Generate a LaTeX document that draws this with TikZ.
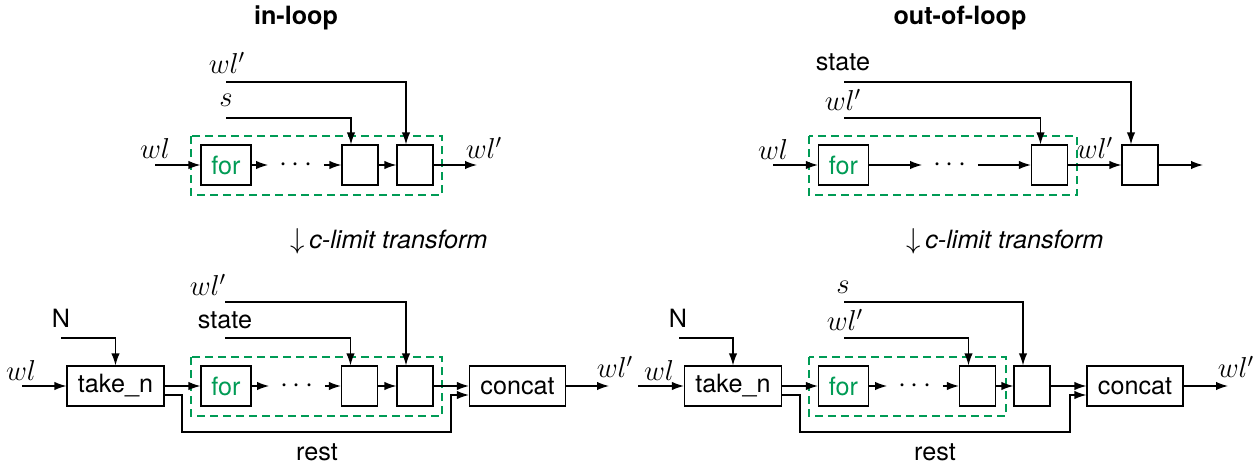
\documentclass[tikz,border=0pt]{standalone}
\usepackage{fontspec}
\setmainfont{TeX Gyre Heros}[Scale=0.88]
\usetikzlibrary{arrows.meta}
\definecolor{fgreen}{RGB}{0,155,85}
\begin{document}
\begin{tikzpicture}[x=0.5pt,y=-0.5pt, font=\fontsize{14.3}{17}\selectfont,
 arr/.style={line width=0.65pt,-{Latex[length=6pt,width=4.2pt]}},
 ln/.style={line width=0.65pt},
 blk/.style={draw,line width=0.6pt,inner sep=0pt,minimum height=20pt},
 forbox/.style={blk,minimum width=25pt,text=fgreen},
 sbox/.style={blk,minimum width=18pt},
 bigbox/.style={blk,minimum width=48.5pt},
 dotsnode/.style={inner sep=0pt,minimum width=27.5pt,minimum height=10pt},
 grp/.style={draw=fgreen,dash pattern=on 4pt off 2.5pt,line width=0.6pt},
 lbl/.style={inner sep=0pt}]
\useasboundingbox (0,0) rectangle (1260,466);

% ---------- titles ----------
\node[lbl,font=\fontsize{14.3}{17}\selectfont\bfseries] (t1) at (296,18) {in-loop};
\node[lbl,font=\fontsize{14.3}{17}\selectfont\bfseries] (t2) at (960,18) {out-of-loop};

% ---------- top-left ----------
\draw[grp] (191,136) rectangle (442,195);
\node[forbox] (f1) at (226,165) {for};
\node[dotsnode] (d1) at (296,165) {$\cdots$};
\node[sbox] (b1a) at (360,165) {};
\node[sbox] (b1b) at (415,165) {};
\coordinate (i1) at (155,165);
\coordinate (o1) at (477,165);
\coordinate (c1s) at (226,118);
\coordinate (c1w) at (226,82);
\draw[arr] (i1) -- (f1);
\draw[arr] (f1) -- (d1);
\draw[arr] (d1) -- (b1a);
\draw[arr] (b1a) -- (b1b);
\draw[arr] (b1b) -- (o1);
\draw[arr] (c1s) -| ([xshift=-4.5pt]b1a.north);
\draw[arr] (c1w) -| ([xshift=-4.5pt]b1b.north);
\node[lbl] (l1a) at (227,63) {$wl'$};
\node[lbl] (l1b) at (226,100) {$s$};
\node[lbl] (l1c) at (155,148) {$wl$};
\node[lbl] (l1d) at (484,148) {$wl'$};

% ---------- top-right ----------
\draw[grp] (809,136) rectangle (1077,195);
\node[forbox] (f2) at (843.5,165) {for};
\node[dotsnode] (d2) at (950,165) {$\cdots$};
\node[sbox] (b2a) at (1049.5,165) {};
\node[sbox] (b2b) at (1140,165) {};
\coordinate (i2) at (773,165);
\coordinate (o2) at (1203,165);
\coordinate (c2w) at (844,118);
\coordinate (c2s) at (844,82);
\draw[arr] (i2) -- (f2);
\draw[arr] (f2) -- (d2);
\draw[arr] (d2) -- (b2a);
\draw[arr] (b2a) -- (b2b);
\draw[arr] (b2b) -- (o2);
\draw[arr] (c2w) -| ([xshift=-4.5pt]b2a.north);
\draw[arr] (c2s) -| ([xshift=-4.5pt]b2b.north);
\node[lbl] (l2a) at (843,62) {state};
\node[lbl] (l2b) at (843,100) {$wl'$};
\node[lbl] (l2c) at (773,149) {$wl$};
\node[lbl] (l2d) at (1095,148) {$wl'$};

% ---------- transforms ----------
\node[lbl,anchor=base] (tr1) at (389,248) {$\downarrow$\,\textit{c-limit transform}};
\node[lbl,anchor=base] (tr2) at (1005,248) {$\downarrow$\,\textit{c-limit transform}};

% ---------- bottom-left ----------
\draw[grp] (191,357) rectangle (442,416);
\node[bigbox] (tk1) at (115.5,386) {take\_n};
\node[forbox] (f3) at (226,386) {for};
\node[dotsnode] (d3) at (297,386) {$\cdots$};
\node[sbox] (b3a) at (359.5,386) {};
\node[sbox] (b3b) at (415,386) {};
\node[bigbox,minimum width=48pt] (cc1) at (517.5,386) {concat};
\coordinate (i3) at (22,386);
\coordinate (o3) at (609,386);
\coordinate (n3) at (61,338);
\coordinate (c3s) at (225,338);
\coordinate (c3w) at (225,302);
\coordinate (r1) at (182,432);
\coordinate (r2) at (451,432);
\draw[arr] (i3) -- (tk1);
\draw[arr] (n3) -| (tk1.north);
\draw[arr] (tk1) -- (f3);
\draw[arr] (f3) -- (d3);
\draw[arr] (d3) -- (b3a);
\draw[arr] (b3a) -- (b3b);
\draw[arr] (b3b) -- (cc1);
\draw[arr] (cc1) -- (o3);
\draw[arr] (c3s) -| ([xshift=-4.5pt]b3a.north);
\draw[arr] (c3w) -| ([xshift=-4.5pt]b3b.north);
\draw[arr] ([yshift=-4.5pt]tk1.east) -| (r1) -- (r2) |- ([yshift=-4.5pt]cc1.west);
\node[lbl] (l3a) at (208,285) {$wl'$};
\node[lbl] (l3b) at (225,320) {state};
\node[lbl] (l3c) at (61,318) {N};
\node[lbl] (l3d) at (21,370) {$wl$};
\node[lbl] (l3e) at (615,367) {$wl'$};
\node[lbl] (l3f) at (317,452) {rest};

% ---------- bottom-right ----------
\draw[grp] (809,357) rectangle (1006,416);
\node[bigbox] (tk2) at (733,386) {take\_n};
\node[forbox] (f4) at (843.5,386) {for};
\node[dotsnode] (d4) at (915,386) {$\cdots$};
\node[sbox] (b4a) at (977.5,386) {};
\node[sbox] (b4b) at (1032,386) {};
\node[bigbox,minimum width=48pt] (cc2) at (1135,386) {concat};
\coordinate (i4) at (638,386);
\coordinate (o4) at (1228,386);
\coordinate (n4) at (679,338);
\coordinate (c4w) at (844,338);
\coordinate (c4s) at (844,302);
\coordinate (r3) at (800,432);
\coordinate (r4) at (1070,432);
\draw[arr] (i4) -- (tk2);
\draw[arr] (n4) -| (tk2.north);
\draw[arr] (tk2) -- (f4);
\draw[arr] (f4) -- (d4);
\draw[arr] (d4) -- (b4a);
\draw[arr] (b4a) -- (b4b);
\draw[arr] (b4b) -- (cc2);
\draw[arr] (cc2) -- (o4);
\draw[arr] (c4w) -| ([xshift=-4.5pt]b4a.north);
\draw[arr] (c4s) -| ([xshift=-4.5pt]b4b.north);
\draw[arr] ([yshift=-4.5pt]tk2.east) -| (r3) -- (r4) |- ([yshift=-4.5pt]cc2.west);
\node[lbl] (l4a) at (843,287) {$s$};
\node[lbl] (l4b) at (845,320) {$wl'$};
\node[lbl] (l4c) at (678,318) {N};
\node[lbl] (l4d) at (659,370) {$wl$};
\node[lbl] (l4e) at (1236,367) {$wl'$};
\node[lbl] (l4f) at (935,452) {rest};
\end{tikzpicture}
\end{document}
